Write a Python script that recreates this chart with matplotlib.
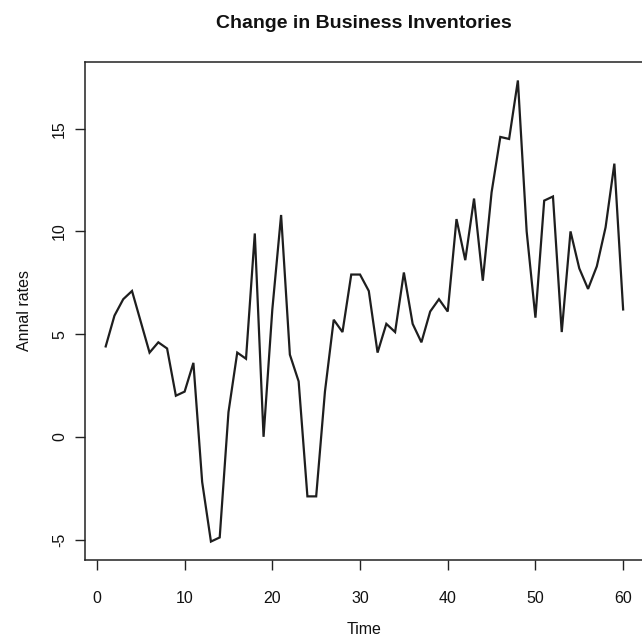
import numpy as np
import matplotlib
matplotlib.use("Agg")
import matplotlib.pyplot as plt

plt.rcParams['font.family'] = ['Liberation Sans', 'DejaVu Sans']

# Quarterly change in business inventories (annual rates)
time = list(range(1, 61))
annual_rates = [
    4.4, 5.9, 6.7, 7.1, 5.6, 4.1, 4.6, 4.3, 2.0, 2.2,
    3.6, -2.2, -5.1, -4.9, 1.2, 4.1, 3.8, 9.9, 0.0, 6.2,
    10.8, 4.0, 2.7, -2.9, -2.9, 2.2, 5.7, 5.1, 7.9, 7.9,
    7.1, 4.1, 5.5, 5.1, 8.0, 5.5, 4.6, 6.1, 6.7, 6.1,
    10.6, 8.6, 11.6, 7.6, 11.9, 14.6, 14.5, 17.35, 10.0, 5.8,
    11.5, 11.7, 5.1, 10.0, 8.2, 7.2, 8.3, 10.2, 13.3, 6.2,
]
x_ticks = [0, 10, 20, 30, 40, 50, 60]
y_ticks = [-5, 0, 5, 10, 15]

W, H = 642, 638
fig = plt.figure(figsize=(W / 100, H / 100), dpi=100)
fig.patch.set_facecolor('white')

# R-style 4% padding on both axes
xmin, xmax = min(time), max(time)
ymin, ymax = min(annual_rates), max(annual_rates)
xpad = 0.04 * (xmax - xmin)
ypad = 0.04 * (ymax - ymin)
xlim = (xmin - xpad, xmax + xpad)
ylim = (ymin - ypad, ymax + ypad)

px_per_x = 8.77
ax_left, ax_bottom, ax_top = 85, 560, 62
ax_width = (xlim[1] - xlim[0]) * px_per_x
ax = fig.add_axes([ax_left / W, 1 - ax_bottom / H, ax_width / W, (ax_bottom - ax_top) / H])

ax.plot(time, annual_rates, color='#1e1e1e', linewidth=1.6, solid_joinstyle='miter')
ax.set_xlim(*xlim)
ax.set_ylim(*ylim)

ax.set_xticks(x_ticks)
ax.set_yticks(y_ticks)
ax.set_xticklabels([str(t) for t in x_ticks])
ax.set_yticklabels([str(t) for t in y_ticks], rotation=90, va='center')
ax.tick_params(axis='both', direction='out', length=7, width=1.0, color='#222222',
               labelsize=11.5, labelcolor='#111111')
ax.tick_params(axis='x', pad=15)
ax.tick_params(axis='y', pad=6)

for s in ax.spines.values():
    s.set_linewidth(1.1)
    s.set_color('#222222')

fig.text(364 / W, 1 - 23 / H, 'Change in Business Inventories', ha='center', va='center',
         fontsize=14, fontweight='bold', color='#111111')
fig.text(364 / W, 1 - 629 / H, 'Time', ha='center', va='center', fontsize=11.5, color='#111111')
fig.text(25 / W, 1 - 311 / H, 'Annal rates', ha='center', va='center', rotation=90,
         fontsize=11.5, color='#111111')

fig.savefig('out.png', dpi=100, facecolor='white')
